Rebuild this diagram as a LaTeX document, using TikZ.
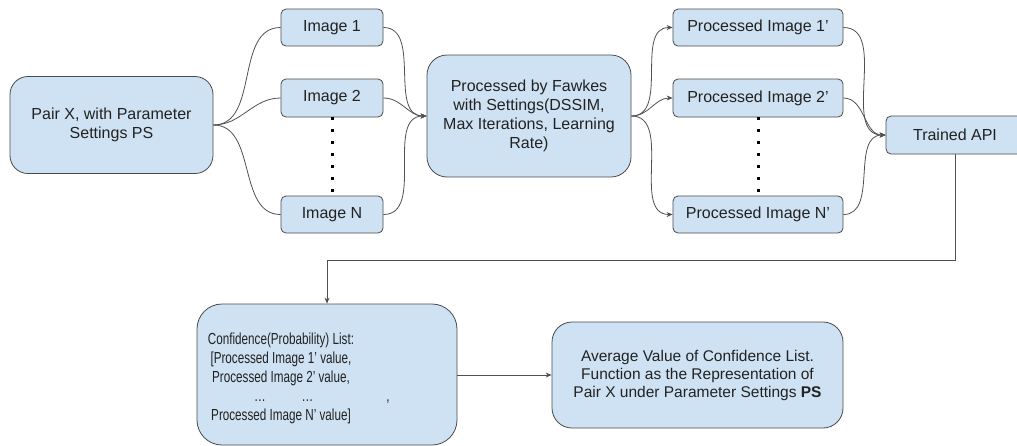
\documentclass[tikz,border=0pt]{standalone}
\usepackage{fontspec}
\setmainfont{Liberation Sans}
\newfontfamily\narrowsans[FakeStretch=0.73]{Liberation Sans}
\usetikzlibrary{arrows.meta}
\definecolor{boxfill}{HTML}{CFE2F3}
\definecolor{boxline}{HTML}{4A4A4A}
\definecolor{wire}{HTML}{505050}
\definecolor{ink}{HTML}{222222}
\begin{document}
\begin{tikzpicture}[x=1pt,y=-1pt,
  txt/.style={align=center, inner sep=0pt, text=ink, font=\fontsize{16}{19}\selectfont},
  box/.style={txt, draw=boxline, fill=boxfill, line width=0.8pt},
  small/.style={box, rounded corners=5pt, minimum height=37pt},
  conn/.style={draw=wire, line width=0.8pt},
  tip/.style={-{Stealth[length=6pt,width=5pt]}},
  dotcol/.style={draw=black, line width=3pt, dash pattern=on 3pt off 9pt}
]
\useasboundingbox (0,0) rectangle (1017,445);
\clip (0,0) rectangle (1017,445);

% input pair and its images
\node[box, rounded corners=18pt, minimum width=203pt, minimum height=97pt] (pair) at (111.5,125)
  {Pair X, with Parameter\\Settings PS};
\node[small, minimum width=102pt] (img1) at (332,27.5) {Image 1};
\node[small, minimum width=102pt, minimum height=38pt] (img2) at (332,98) {Image 2};
\node[small, minimum width=102pt] (imgN) at (332,214.5) {Image N};

% cloaking step
\node[box, rounded corners=20pt, minimum width=204pt, minimum height=122pt] (fawkes) at (529,116)
  {Processed by Fawkes\\with Settings(DSSIM,\\Max Iterations, Learning\\Rate)};

% processed images
\node[small, minimum width=170pt] (p1) at (758,27.5) {Processed Image 1’};
\node[small, minimum width=170pt, minimum height=38pt] (p2) at (758,98) {Processed Image 2’};
\node[small, minimum width=170pt] (pN) at (758,214.5) {Processed Image N’};

% recognition model
\node[small, minimum width=138pt, minimum height=38pt] (api) at (955,135) {Trained API};

% results
\node[box, rounded corners=25pt, minimum width=260pt, minimum height=141pt] (conf) at (327,374.5) {};
\node[txt, font=\narrowsans\fontsize{16}{19}\selectfont] (conftxt) at (281,378)
  {Confidence(Probability) List:\\{[}Processed Image 1’ value,\\Processed Image 2’ value,\\
   \makebox[0pt][l]{\hspace{-27pt}…\hspace{36pt}…\hspace{73pt},}\\Processed Image N’ value]};
\node[box, font=\fontsize{15.5}{18}\selectfont, rounded corners=20pt, minimum width=291pt, minimum height=106pt] (avg) at (697.5,375)
  {Average Value of Confidence List.\\Function as the Representation of\\Pair X under Parameter Settings \textbf{PS}};

% fan out to the images
\foreach \n in {img1,img2,imgN}
  \draw[conn] (pair.east) to[out=0,in=180] (\n.west);
% merge into Fawkes
\foreach \n in {img1,img2,imgN}
  \draw[conn,tip] (\n.east) to[out=0,in=180] (fawkes.west);
% fan out to processed images
\foreach \n in {p1,p2,pN}
  \draw[conn,tip] (fawkes.east) to[out=0,in=180] (\n.west);
% merge into the API
\foreach \n in {p1,p2,pN}
  \draw[conn,tip] (\n.east) to[out=0,in=180] (api.west);

% vertical ellipses
\draw[dotcol] (img2.south) -- (imgN.north);
\draw[dotcol] (p2.south) -- (pN.north);

% API output to the confidence list
\draw[conn,tip] (api.south) -- ++(0,106) -| (conf.north);
% list to its average
\draw[conn,tip] (conf.east |- avg.west) -- (avg.west);
\end{tikzpicture}
\end{document}
